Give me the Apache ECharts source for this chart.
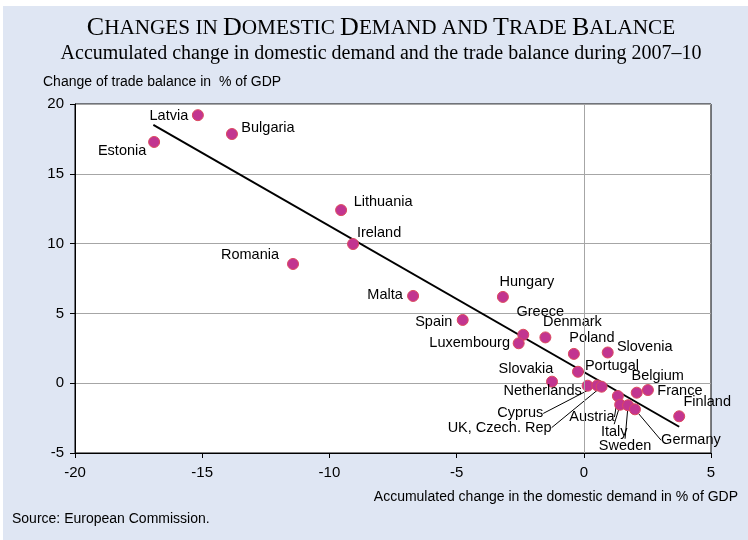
<!DOCTYPE html>
<html>
<head>
<meta charset="utf-8">
<title>Changes in domestic demand and trade balance</title>
<script src="https://cdn.jsdelivr.net/npm/echarts@6/dist/echarts.min.js"></script>
<style>
  html, body { margin: 0; padding: 0; background: #fff; }
  #chart { width: 748px; height: 540px; }
</style>
</head>
<body>
<div id="chart"></div>
<script>
// values
const countries = ["Latvia", "Bulgaria", "Estonia", "Lithuania", "Ireland", "Romania", "Malta",
  "Hungary", "Spain", "Greece", "Denmark", "Luxembourg", "Poland", "Slovenia", "Portugal",
  "Slovakia", "Netherlands", "Cyprus", "UK, Czech. Rep", "Austria", "Italy", "Sweden",
  "Germany", "Belgium", "France", "Finland"];
const demandChange = [-15.17, -13.83, -16.89, -9.54, -9.07, -11.43, -6.71,
  -3.18, -4.76, -2.38, -1.51, -2.56, -0.39, 0.94, -0.23,
  -1.25, 0.15, 0.53, 0.7, 1.34, 1.43, 1.74,
  2.01, 2.08, 2.52, 3.75];
const tradeChange = [19.2, 17.85, 17.28, 12.4, 9.97, 8.54, 6.25,
  6.18, 4.53, 3.47, 3.28, 2.86, 2.1, 2.2, 0.82,
  0.11, -0.18, -0.16, -0.25, -0.92, -1.54, -1.58,
  -1.87, -0.68, -0.49, -2.37];
// fitted line end points
const trendX = [-16.92, 3.75];
const trendY = [18.5, -3.12];
const xTicks = [-20, -15, -10, -5, 0, 5];
const yTicks = [-5, 0, 5, 10, 15, 20];

// where each label sits, relative to its point (px)
const labelOffsets = {
  "Latvia": [-29, 1], "Bulgaria": [36, -6], "Estonia": [-32, 9], "Lithuania": [42, -8],
  "Ireland": [26, -11], "Romania": [-43, -9], "Malta": [-28, -1], "Hungary": [24, -15],
  "Spain": [-29, 2], "Greece": [17, -23], "Denmark": [27, -15], "Luxembourg": [-49, 0],
  "Poland": [18, -16], "Slovenia": [37, -5], "Portugal": [34, -6], "Slovakia": [-26, -13],
  "Netherlands": [-45, 5], "Cyprus": [-77, 28], "UK, Czech. Rep": [-102, 41],
  "Austria": [-26, 21], "Italy": [-6, 27], "Sweden": [-3, 41], "Germany": [56, 31],
  "Belgium": [21, -17], "France": [32, 1], "Finland": [28, -14]
};
const leaderLines = ["Cyprus", "UK, Czech. Rep", "Austria", "Italy", "Sweden", "Germany"];

const points = countries.map((name, i) => {
  const item = { name: name, value: [demandChange[i], tradeChange[i]] };
  if (leaderLines.indexOf(name) >= 0) {
    item.labelLine = { show: true, lineStyle: { color: "#000", width: 1 } };
  }
  return item;
});

const chart = echarts.init(document.getElementById("chart"), null, { renderer: "canvas" });

function caps(text) {
  // fake small caps: capitalised words get a big first letter, the rest is small capitals
  return text.split(" ").map(w => {
    if (w[0] === w[0].toUpperCase()) {
      return "{b|" + w[0] + "}{s|" + w.slice(1).toUpperCase() + "}";
    }
    return "{s|" + w.toUpperCase() + "}";
  }).join("{s| }");
}

const option = {
  backgroundColor: "#fff",
  animation: false,
  graphic: [
    { type: "rect", z: -10, shape: { x: 3, y: 6, width: 745, height: 534 }, style: { fill: "#dfe6f3" } },
    {
      type: "text",
      style: {
        text: caps("Changes in Domestic Demand and Trade Balance"),
        x: 381, y: 28, align: "center", verticalAlign: "middle",
        rich: {
          b: { fontFamily: "Liberation Serif", fontSize: 26, fill: "#000" },
          s: { fontFamily: "Liberation Serif", fontSize: 21.2, fill: "#000" }
        }
      }
    },
    {
      type: "text",
      style: {
        text: "Accumulated change in domestic demand and the trade balance during 2007\u201310",
        x: 381, y: 54, align: "center", verticalAlign: "middle",
        fontFamily: "Liberation Serif", fontSize: 20, fill: "#000"
      }
    },
    {
      type: "text",
      style: {
        text: "Change of trade balance in  % of GDP",
        x: 43, y: 82, align: "left", verticalAlign: "middle",
        fontFamily: "Liberation Sans", fontSize: 14, fill: "#000"
      }
    },
    {
      type: "text",
      style: {
        text: "Accumulated change in the domestic demand in % of GDP",
        x: 738, y: 497, align: "right", verticalAlign: "middle",
        fontFamily: "Liberation Sans", fontSize: 14, fill: "#000"
      }
    },
    {
      type: "text",
      style: {
        text: "Source: European Commission.",
        x: 12, y: 519, align: "left", verticalAlign: "middle",
        fontFamily: "Liberation Sans", fontSize: 14, fill: "#000"
      }
    }
  ],
  grid: {
    left: 75, right: 37, top: 104, bottom: 87,
    show: true, backgroundColor: "#fff", borderColor: "#000", borderWidth: 1
  },
  xAxis: {
    type: "value",
    min: xTicks[0], max: xTicks[xTicks.length - 1], interval: 5,
    axisLine: { onZero: false, lineStyle: { color: "#000", width: 1 } },
    axisTick: { show: true, length: 5, lineStyle: { color: "#000" } },
    axisLabel: { margin: 12, color: "#000", fontFamily: "Liberation Sans", fontSize: 15 },
    splitLine: { show: false }
  },
  yAxis: {
    type: "value",
    min: yTicks[0], max: yTicks[yTicks.length - 1], interval: 5,
    axisLine: { show: true, onZero: false, lineStyle: { color: "#000", width: 1 } },
    axisTick: { show: true, length: 5, lineStyle: { color: "#000" } },
    axisLabel: { margin: 11, color: "#000", fontFamily: "Liberation Sans", fontSize: 15 },
    splitLine: { show: true, lineStyle: { color: "#a6a6a6", width: 1 } }
  },
  series: [
    {
      type: "line",
      z: 2,
      data: trendX.map((x, i) => [x, trendY[i]]),
      symbol: "none",
      silent: true,
      lineStyle: { color: "#000", width: 2 },
      markLine: {
        silent: true,
        symbol: "none",
        label: { show: false },
        lineStyle: { color: "#a6a6a6", width: 1, type: "solid" },
        data: [{ xAxis: 0 }]
      }
    },
    {
      type: "scatter",
      z: 3,
      data: points,
      symbol: "circle",
      symbolSize: 11,
      itemStyle: { color: "#c23590", borderColor: "#dc4a5e", borderWidth: 1, opacity: 1 },
      label: {
        show: true,
        position: "inside",
        formatter: "{b}",
        color: "#000",
        fontFamily: "Liberation Sans",
        fontSize: 14.5
      },
      labelLine: { show: false },
      labelLayout: function (params) {
        const o = labelOffsets[countries[params.dataIndex]];
        return { dx: o[0], dy: o[1] };
      }
    }
  ]
};

chart.setOption(option);
</script>
</body>
</html>
